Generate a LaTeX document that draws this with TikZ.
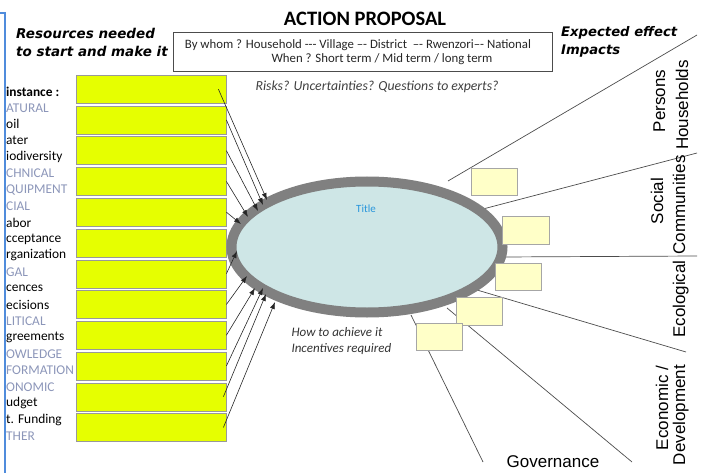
\documentclass[tikz,border=0pt]{standalone}
\usepackage{fontspec}
\setmainfont{Carlito}
\newfontfamily\arialfont{Liberation Sans}
\newfontfamily\headfont{DejaVu Sans}
\usetikzlibrary{arrows.meta,positioning,shapes.geometric}

\definecolor{resyellow}{RGB}{230,255,0}
\definecolor{effyellow}{RGB}{255,255,200}
\definecolor{catgray}{RGB}{140,150,185}
\definecolor{ringgray}{RGB}{128,128,128}
\definecolor{innercyan}{RGB}{206,230,230}
\definecolor{titleblue}{RGB}{40,150,220}
\definecolor{panelblue}{RGB}{80,140,220}

\begin{document}
\begin{tikzpicture}[x=1pt,y=-1pt,
res box/.style={draw=gray!80,fill=resyellow,minimum width=150pt,minimum height=28pt,inner sep=0pt,anchor=north west},
eff box/.style={draw=gray!70,fill=effyellow,minimum width=46pt,minimum height=27pt,inner sep=0pt,anchor=north west},
item/.style={anchor=west,inner sep=0pt,font=\fontsize{13.4}{15}\selectfont},
lead/.style={item,font=\bfseries\fontsize{13.4}{15}\selectfont},
cat/.style={item,text=catgray},
feed/.style={draw=black!85,line width=0.6pt,-{Latex[length=7pt,width=5pt]}},
ray/.style={draw=black!70,line width=0.7pt},
impact/.style={rotate=90,anchor=base,inner sep=0pt,font=\arialfont\fontsize{17}{20}\selectfont},
head/.style={font=\headfont\bfseries\itshape\fontsize{13.5}{18}\selectfont,align=left,anchor=north west,inner sep=0pt}]

\useasboundingbox (0,0) rectangle (706,473);

% edge of the panel on the left
\draw[panelblue,line width=1.5pt] (0,13) -- (5,13) -- (5,473);

% headings
\node[font=\bfseries\fontsize{20.5}{24}\selectfont] (action) at (365,19) {ACTION PROPOSAL};
\node[draw=black!70,line width=0.6pt,minimum width=379pt,minimum height=39pt,inner sep=0pt,anchor=north west] (who) at (173,32) {};
\node[font=\fontsize{12.8}{14}\selectfont,text=black!85] (whom) at (358,45) {By whom ? Household -{}-{}- Village –{}- District ~–{}- Rwenzori–{}- National};
\node[font=\fontsize{12.8}{14}\selectfont,text=black!85] (when) at (382,59) {When ? Short term / Mid term / long term};
\node[head] (needs) at (16,28) {Resources needed\\to start and make it};
\node[head,font=\headfont\bfseries\itshape\fontsize{13.2}{18}\selectfont] (expect) at (561,26) {Expected effect\\Impacts};
\node[anchor=west,font=\itshape\fontsize{13.8}{15}\selectfont,text=black!75] (risk) at (252,87) {Risks? Uncertainties? Questions to experts?};

% resources
\foreach \i in {1,...,12}
\node[res box] (r\i) at (76,{75+30.75*(\i-1)}) {};

\foreach \t/\s [count=\k from 0] in {instance :/lead,ATURAL/cat,oil/item,ater/item,iodiversity/item,CHNICAL/cat,QUIPMENT/cat,CIAL/cat,abor/item,cceptance/item,rganization/item,GAL/cat,cences/item,ecisions/item,LITICAL/cat,greements/item,OWLEDGE/cat,FORMATION/cat,ONOMIC/cat,udget/item,t. Funding/item,THER/cat}
\node[\s] (lab\k) at (6,{91.5+16.4*\k}) {\t};

% effect rays
\foreach \n/\x/\y/\u/\v in {1/448/181/697/35,2/483/209/697/153,3/502/257/697/256,4/477/290/686/352,5/447/308/632/462,6/411/315/483/462}{
\coordinate (s\n) at (\x,\y);
\coordinate (e\n) at (\u,\v);
\draw[ray] (s\n) -- (e\n);
}

% the proposal
\node[ellipse,draw=ringgray,line width=10pt,fill=innercyan,minimum width=271pt,minimum height=131pt,inner sep=0pt] (prop) at (367,247) {};
\node[text=titleblue,font=\fontsize{11}{13}\selectfont] (ttl) at (366,209) {Title};
\node[anchor=west,align=left,font=\itshape\fontsize{13}{16}\selectfont,text=black!80] (how) at (288,341) {How to achieve it\\Incentives required};

% effect boxes
\node[eff box] (b1) at (471,168) {};
\node[eff box,minimum width=47pt,minimum height=28pt] (b2) at (502,216) {};
\node[eff box] (b3) at (495,263) {};
\node[eff box,minimum height=28pt] (b4) at (456,297) {};
\node[eff box] (b5) at (416,323) {};

% arrows into the ring
\foreach \n/\x/\y in {1/267/200,2/263/205,3/258/211,4/248/217,5/241/224,7/237/251,8/247/276,9/255/288,10/263/288,11/266/294,12/275/302}
\coordinate (t\n) at (\x,\y);
\foreach \i/\dx in {1/-8,2/0,3/0,4/0,5/0,7/0,8/0,9/0,10/0,11/-3,12/-3}
\draw[feed] ([xshift=\dx pt]r\i.east) -- (t\i);

% impacts
\node[impact] (persons) at (665,101) {Persons};
\node[impact] (house) at (688,105) {Households};
\node[impact] (social) at (663,201) {Social};
\node[impact] (commun) at (685,205) {Communities};
\node[impact] (ecolog) at (685,299) {Ecological};
\node[impact] (econ) at (668,408) {Economic /};
\node[impact] (devel) at (685,415) {Development};
\node[font=\arialfont\fontsize{17}{20}\selectfont] (gov) at (553,462) {Governance};
\end{tikzpicture}
\end{document}
